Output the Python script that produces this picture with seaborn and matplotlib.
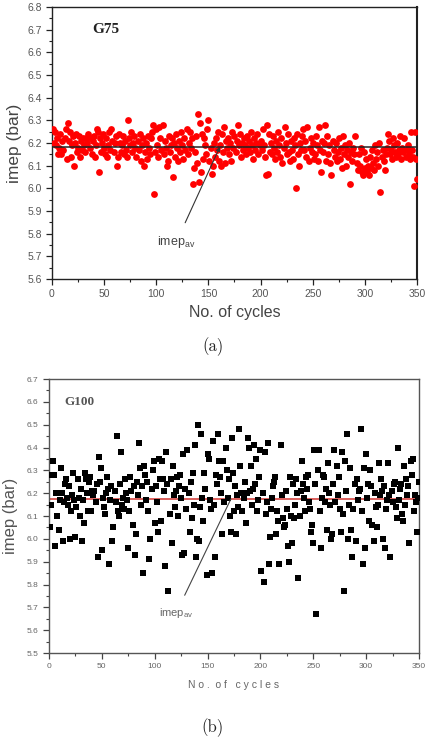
import numpy as np
import pandas as pd
import matplotlib
matplotlib.use("Agg")
import matplotlib.pyplot as plt
from matplotlib.ticker import MultipleLocator, FormatStrFormatter
import seaborn as sns

# ---------------- data ----------------
imep_g75 = [
    6.26, 6.20, 6.25, 6.19, 6.22, 6.15, 6.18, 6.24, 6.15, 6.21,
    6.17, 6.22, 6.26, 6.13, 6.29, 6.21, 6.25, 6.14, 6.19, 6.23,
    6.10, 6.20, 6.24, 6.16, 6.18, 6.23, 6.14, 6.21, 6.17, 6.22,
    6.19, 6.16, 6.22, 6.20, 6.24, 6.18, 6.22, 6.15, 6.21, 6.23,
    6.14, 6.19, 6.26, 6.25, 6.07, 6.22, 6.16, 6.20, 6.24, 6.18,
    6.15, 6.22, 6.14, 6.19, 6.25, 6.17, 6.26, 6.21, 6.16, 6.20,
    6.23, 6.10, 6.14, 6.24, 6.20, 6.16, 6.19, 6.23, 6.15, 6.21,
    6.17, 6.14, 6.30, 6.22, 6.19, 6.25, 6.16, 6.20, 6.23, 6.18,
    6.14, 6.21, 6.17, 6.24, 6.12, 6.19, 6.22, 6.10, 6.16, 6.20,
    6.13, 6.23, 6.18, 6.15, 6.22, 6.25, 6.28, 5.975, 6.16, 6.26,
    6.19, 6.14, 6.27, 6.22, 6.17, 6.28, 6.15, 6.21, 6.18, 6.10,
    6.12, 6.23, 6.16, 6.19, 6.22, 6.05, 6.20, 6.14, 6.24, 6.18,
    6.12, 6.21, 6.16, 6.25, 6.19, 6.13, 6.22, 6.17, 6.26, 6.15,
    6.20, 6.25, 6.18, 6.22, 6.02, 6.09, 6.16, 6.23, 6.11, 6.33,
    6.03, 6.29, 6.07, 6.24, 6.13, 6.22, 6.19, 6.15, 6.26, 6.30,
    6.12, 6.18, 6.065, 6.10, 6.20, 6.14, 6.22, 6.17, 6.25, 6.12,
    6.19, 6.10, 6.24, 6.16, 6.27, 6.11, 6.21, 6.18, 6.22, 6.15,
    6.20, 6.12, 6.25, 6.18, 6.23, 6.16, 6.21, 6.28, 6.19, 6.24,
    6.14, 6.20, 6.17, 6.22, 6.19, 6.15, 6.23, 6.18, 6.21, 6.16,
    6.25, 6.19, 6.13, 6.22, 6.17, 6.20, 6.24, 6.15, 6.19, 6.21,
    6.17, 6.26, 6.19, 6.14, 6.06, 6.28, 6.065, 6.24, 6.16, 6.20,
    6.15, 6.23, 6.18, 6.13, 6.21, 6.16, 6.25, 6.19, 6.14, 6.22,
    6.11, 6.18, 6.27, 6.20, 6.15, 6.24, 6.16, 6.12, 6.21, 6.17,
    6.13, 6.22, 6.19, 6.00, 6.24, 6.15, 6.10, 6.20, 6.17, 6.23,
    6.26, 6.17, 6.21, 6.14, 6.27, 6.12, 6.18, 6.22, 6.16, 6.20,
    6.13, 6.15, 6.23, 6.19, 6.12, 6.27, 6.17, 6.07, 6.21, 6.16,
    6.20, 6.28, 6.12, 6.23, 6.15, 6.19, 6.11, 6.06, 6.21, 6.17,
    6.14, 6.20, 6.12, 6.16, 6.22, 6.13, 6.18, 6.09, 6.23, 6.15,
    6.19, 6.10, 6.17, 6.14, 6.20, 6.02, 6.16, 6.12, 6.18, 6.15,
    6.23, 6.11, 6.08, 6.15, 6.10, 6.18, 6.07, 6.06, 6.16, 6.09,
    6.13, 6.07, 6.10, 6.06, 6.14, 6.09, 6.17, 6.11, 6.08, 6.19,
    6.13, 6.16, 6.10, 6.20, 5.985, 6.14, 6.17, 6.12, 6.08, 6.15,
    6.18, 6.24, 6.21, 6.15, 6.17, 6.13, 6.22, 6.19, 6.16, 6.14,
    6.20, 6.15, 6.17, 6.23, 6.13, 6.18, 6.16, 6.22, 6.14, 6.17,
    6.19, 6.15, 6.13, 6.25, 6.17, 6.14, 6.01, 6.25, 6.13, 6.04,
]

imep_g100 = [
    6.05, 6.15, 6.28, 6.34, 6.28, 5.97, 6.20, 6.10, 6.04, 6.17,
    6.31, 6.20, 5.99, 6.16, 6.24, 6.26, 6.18, 6.15, 6.23, 6.00,
    6.12, 6.19, 6.29, 6.17, 6.01, 6.14, 6.26, 6.18, 6.10, 6.22,
    5.99, 6.17, 6.07, 6.29, 6.26, 6.20, 6.12, 6.25, 6.27, 6.12,
    6.21, 6.19, 6.21, 6.16, 6.24, 5.92, 6.36, 6.25, 6.31, 5.95,
    6.18, 6.14, 6.11, 6.20, 6.27, 6.22, 5.89, 6.17, 6.23, 5.99,
    6.05, 6.21, 6.16, 6.45, 6.12, 6.10, 6.24, 6.38, 6.15, 6.18,
    6.13, 6.26, 6.20, 6.17, 5.96, 6.12, 6.27, 6.21, 6.06, 6.23,
    5.93, 6.02, 6.25, 6.19, 6.42, 6.31, 6.15, 6.23, 5.85, 6.32,
    6.28, 6.17, 6.25, 6.12, 5.91, 6.00, 6.22, 6.30, 6.34, 6.07,
    6.23, 6.16, 6.03, 6.35, 6.26, 6.08, 6.34, 6.26, 6.21, 5.88,
    6.38, 6.24, 5.77, 6.11, 6.26, 5.98, 6.32, 6.19, 6.14, 6.21,
    6.27, 6.10, 6.23, 6.28, 6.18, 5.93, 6.37, 5.94, 6.22, 6.13,
    6.39, 6.20, 6.03, 6.25, 6.09, 6.29, 6.15, 6.41, 5.92, 6.00,
    6.50, 5.99, 6.14, 6.46, 6.18, 6.08, 6.29, 6.22, 5.84, 6.37,
    6.35, 6.17, 6.13, 5.85, 6.43, 6.15, 5.92, 6.28, 6.24, 6.46,
    6.34, 6.27, 6.20, 6.02, 6.34, 6.16, 6.40, 6.30, 6.18, 6.26,
    6.10, 6.03, 6.44, 6.29, 6.12, 6.23, 6.02, 6.19, 6.14, 6.48,
    6.32, 6.20, 6.12, 6.18, 6.25, 6.07, 6.20, 6.44, 6.40, 6.21,
    6.32, 6.15, 6.22, 6.41, 6.24, 6.35, 6.12, 6.17, 6.27, 6.39,
    5.86, 6.20, 5.81, 6.38, 6.11, 6.16, 6.42, 5.89, 6.01, 6.13,
    6.18, 6.23, 6.25, 6.27, 6.02, 6.12, 6.08, 5.89, 6.41, 6.19,
    6.09, 6.05, 6.06, 6.21, 6.13, 5.97, 5.90, 6.27, 6.10, 5.98,
    6.24, 6.09, 6.15, 6.26, 6.20, 5.83, 6.10, 6.21, 6.34, 6.24,
    6.18, 6.12, 6.27, 6.22, 6.28, 6.16, 6.13, 6.03, 6.06, 5.98,
    6.39, 6.24, 5.67, 6.30, 6.39, 6.12, 5.96, 6.18, 6.28, 6.27,
    6.16, 6.22, 6.04, 6.33, 6.20, 6.15, 6.00, 6.02, 6.24, 6.39,
    6.16, 6.32, 6.19, 6.27, 6.13, 6.03, 6.38, 6.11, 5.77, 6.34,
    6.21, 6.46, 6.00, 6.15, 6.31, 6.04, 5.92, 6.13, 6.24, 5.99,
    6.26, 6.17, 6.21, 6.22, 6.48, 6.12, 5.89, 6.31, 5.96, 6.37,
    6.18, 6.24, 6.08, 6.30, 6.23, 6.06, 5.99, 6.20, 6.14, 6.05,
    6.15, 6.33, 6.19, 6.26, 6.21, 6.00, 6.23, 5.96, 6.13, 6.17,
    6.33, 6.19, 5.92, 6.21, 6.16, 6.24, 6.25, 6.14, 6.09, 6.40,
    6.17, 6.22, 6.24, 6.11, 6.08, 6.32, 6.15, 6.26, 6.19, 6.23,
    5.98, 6.34, 6.28, 6.35, 6.12, 6.19, 6.16, 6.03, 6.18, 6.25,
]

cycles_g75 = list(range(1, len(imep_g75) + 1))
cycles_g100 = list(range(1, len(imep_g100) + 1))
imep_av_g75 = 6.183
imep_av_g100 = 6.174

x_ticks = [0, 50, 100, 150, 200, 250, 300, 350]
y_ticks_g75 = [5.6, 5.7, 5.8, 5.9, 6.0, 6.1, 6.2, 6.3, 6.4, 6.5, 6.6, 6.7, 6.8]
y_ticks_g100 = [5.5, 5.6, 5.7, 5.8, 5.9, 6.0, 6.1, 6.2, 6.3, 6.4, 6.5, 6.6, 6.7]

df75 = pd.DataFrame({"cycle": cycles_g75, "imep": imep_g75})
df100 = pd.DataFrame({"cycle": cycles_g100, "imep": imep_g100})

# ---------------- style ----------------
sns.set_style("ticks")
plt.rcParams["font.family"] = ["Liberation Sans", "DejaVu Sans"]

W, H = 427, 739
fig = plt.figure(figsize=(W / 100, H / 100), dpi=100)

ax1 = fig.add_axes([52 / W, 1 - 279 / H, 365 / W, 272 / H])
ax2 = fig.add_axes([49 / W, 1 - 653 / H, 370 / W, 274 / H])

# ---- top panel (G75) ----
sns.scatterplot(data=df75, x="cycle", y="imep", ax=ax1, color="#ff0000",
                marker="o", s=24, linewidth=0, legend=False, zorder=3)
ax1.axhline(imep_av_g75, color="#222222", lw=1.1, zorder=4)
ax1.set_xlim(0, 350)
ax1.set_ylim(5.6, 6.8)
ax1.set_xticks(x_ticks)
ax1.set_yticks(y_ticks_g75)
ax1.yaxis.set_major_formatter(FormatStrFormatter("%.1f"))
ax1.xaxis.set_minor_locator(MultipleLocator(25))
ax1.yaxis.set_minor_locator(MultipleLocator(0.05))
ax1.tick_params(axis="both", which="major", direction="out", length=4, width=0.9,
                labelsize=7.5, labelcolor="#555555", color="#222222")
ax1.tick_params(axis="both", which="minor", direction="out", length=2, width=0.8,
                color="#222222")
for sp in ax1.spines.values():
    sp.set_visible(True)
    sp.set_color("#222222")
    sp.set_linewidth(1.0)
ax1.spines["right"].set_linewidth(1.5)
ax1.set_xlabel("No. of cycles", fontsize=11.5, color="#444444", labelpad=4)
ax1.set_ylabel("imep (bar)", fontsize=12.5, color="#444444", labelpad=4)
ax1.text(39, 6.70, "G75", fontsize=11, fontweight="bold", family="Liberation Serif",
         color="#222222", va="center", ha="left")
ax1.annotate(r"imep$_{\mathregular{av}}$", xy=(161, imep_av_g75), xytext=(101, 5.765),
             fontsize=9, color="#444444", ha="left", va="center",
             arrowprops=dict(arrowstyle="-|>", color="#333333", lw=0.8,
                             shrinkA=6, shrinkB=0, mutation_scale=6))

# ---- bottom panel (G100) ----
sns.scatterplot(data=df100, x="cycle", y="imep", ax=ax2, color="black",
                marker="s", s=20, linewidth=0, legend=False, zorder=3)
ax2.axhline(imep_av_g100, color="#d9534f", lw=1.3, zorder=2)
ax2.set_xlim(0, 350)
ax2.set_ylim(5.5, 6.7)
ax2.set_xticks(x_ticks)
ax2.set_yticks(y_ticks_g100)
ax2.yaxis.set_major_formatter(FormatStrFormatter("%.1f"))
ax2.xaxis.set_minor_locator(MultipleLocator(25))
ax2.yaxis.set_minor_locator(MultipleLocator(0.05))
ax2.tick_params(axis="both", which="major", direction="out", length=4, width=0.9,
                labelsize=6, labelcolor="#666666", color="#444444")
ax2.tick_params(axis="both", which="minor", direction="out", length=2, width=0.8,
                color="#444444")
for sp in ax2.spines.values():
    sp.set_visible(True)
    sp.set_color("#555555")
    sp.set_linewidth(1.0)
ax2.set_xlabel("N o .  o f   c y c l e s", fontsize=7.5, color="#666666", labelpad=7)
ax2.set_ylabel("imep (bar)", fontsize=12, color="#555555", labelpad=6)
ax2.text(15, 6.60, "G100", fontsize=9.5, fontweight="bold", family="Liberation Serif",
         color="#555555", va="center", ha="left")
ax2.annotate(r"imep$_{\mathregular{av}}$", xy=(172, imep_av_g100), xytext=(104, 5.675),
             fontsize=8, color="#666666", ha="left", va="center",
             arrowprops=dict(arrowstyle="-", color="#444444", lw=0.8,
                             shrinkA=6, shrinkB=0))

# ---- captions ----
fig.text(213 / W, 1 - 347 / H, "(a)", fontsize=12, family=["cmr10", "DejaVu Serif"],
         ha="center", va="center", color="#222222")
fig.text(213 / W, 1 - 728 / H, "(b)", fontsize=12, family=["cmr10", "DejaVu Serif"],
         ha="center", va="center", color="#222222")

fig.savefig("out.png", dpi=100)
